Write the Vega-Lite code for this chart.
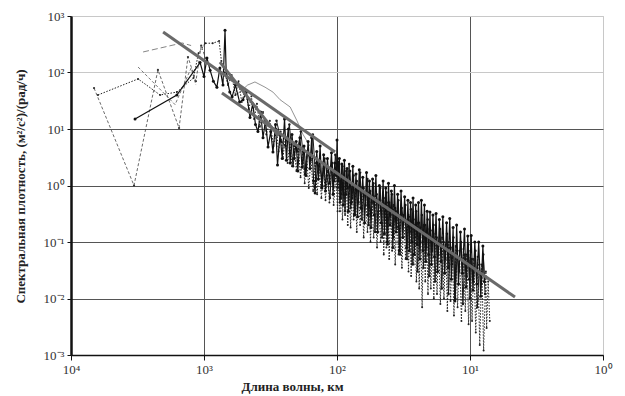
{
"$schema":"https://vega.github.io/schema/vega-lite/v6.json",
"width":532,"height":339,"autosize":"none",
"padding":{"left":71,"top":16,"right":22,"bottom":41},
"background":"white",
"datasets":{
"A":[{"x":3300,"y":15},{"x":1600,"y":40},{"x":1070,"y":150},{"x":1000,"y":85},{"x":950,"y":180},{"x":900,"y":110},{"x":850,"y":70},{"x":800,"y":55},{"x":760,"y":120},{"x":720,"y":60},{"x":695,"y":560},{"x":680,"y":90},{"x":640,"y":45},{"x":615,"y":37},{"x":580,"y":60},{"x":540,"y":30},{"x":509,"y":33},{"x":480,"y":45},{"x":451,"y":16},{"x":430,"y":28},{"x":410,"y":12},{"x":393,"y":9},{"x":375,"y":20},{"x":360,"y":7},{"x":345,"y":14},{"x":330,"y":4.8},{"x":315,"y":9},{"x":303,"y":3.9},{"x":290,"y":12},{"x":280,"y":2.3},{"x":268,"y":8},{"x":258,"y":3},{"x":248,"y":15},{"x":240,"y":2.8},{"x":232,"y":10},{"x":225,"y":2.5},{"x":218,"y":8},{"x":210,"y":3},{"x":203,"y":6},{"x":197,"y":1.8},{"x":190,"y":7},{"x":183,"y":2.1},{"x":177,"y":5},{"x":171,"y":1.5},{"x":165,"y":6},{"x":160,"y":2},{"x":155,"y":7},{"x":150,"y":1.2},{"x":146,"y":0.74},{"x":142,"y":4},{"x":138,"y":1.3},{"x":134,"y":5},{"x":130,"y":0.9},{"x":126,"y":3.5},{"x":122,"y":0.8},{"x":118,"y":3},{"x":114,"y":1.1},{"x":110,"y":3.8},{"x":107,"y":0.7},{"x":104,"y":2.5},{"x":101,"y":1.5},{"x":100,"y":6.4},{"x":98,"y":1.2},{"x":96,"y":3},{"x":94,"y":0.6},{"x":92,"y":2.4},{"x":90,"y":0.45},{"x":88,"y":2.8},{"x":86,"y":0.7},{"x":84,"y":2},{"x":82,"y":0.35},{"x":80,"y":1.8},{"x":78,"y":0.5},{"x":76,"y":2.2},{"x":74,"y":0.3},{"x":72,"y":1.6},{"x":70,"y":0.28},{"x":68,"y":1.9},{"x":66,"y":0.4},{"x":64,"y":1.4},{"x":62,"y":0.22},{"x":60,"y":1.7},{"x":58.5,"y":0.3},{"x":57,"y":1.2},{"x":55.5,"y":0.18},{"x":54,"y":1.3},{"x":52.5,"y":0.3},{"x":51,"y":1.5},{"x":49.5,"y":0.15},{"x":48,"y":1.0},{"x":46.5,"y":0.22},{"x":45,"y":1.2},{"x":44,"y":0.14},{"x":43,"y":0.9},{"x":42,"y":0.1},{"x":41,"y":1.1},{"x":40,"y":0.2},{"x":39,"y":0.8},{"x":38,"y":0.08},{"x":37,"y":1.0},{"x":36,"y":0.15},{"x":35,"y":0.7},{"x":34,"y":0.07},{"x":33,"y":0.8},{"x":32,"y":0.12},{"x":31,"y":0.63},{"x":30,"y":0.08},{"x":29.3,"y":0.55},{"x":28.6,"y":0.07},{"x":28,"y":0.5},{"x":27.4,"y":0.1},{"x":26.8,"y":0.6},{"x":26.2,"y":0.06},{"x":25.6,"y":0.45},{"x":25,"y":0.09},{"x":24.4,"y":0.5},{"x":23.8,"y":0.05},{"x":23.2,"y":0.55},{"x":22.6,"y":0.07},{"x":22,"y":0.45},{"x":21.5,"y":0.045},{"x":21,"y":0.35},{"x":20.5,"y":0.06},{"x":20,"y":0.34},{"x":19.5,"y":0.04},{"x":19,"y":0.3},{"x":18.5,"y":0.055},{"x":18,"y":0.32},{"x":17.5,"y":0.03},{"x":17,"y":0.25},{"x":16.5,"y":0.045},{"x":16,"y":0.28},{"x":15.5,"y":0.028},{"x":15,"y":0.22},{"x":14.6,"y":0.035},{"x":14.2,"y":0.26},{"x":13.8,"y":0.022},{"x":13.4,"y":0.18},{"x":13,"y":0.009},{"x":12.6,"y":0.2},{"x":12.2,"y":0.018},{"x":11.8,"y":0.15},{"x":11.4,"y":0.028},{"x":11,"y":0.17},{"x":10.7,"y":0.016},{"x":10.4,"y":0.128},{"x":10.1,"y":0.022},{"x":9.8,"y":0.13},{"x":9.5,"y":0.014},{"x":9.2,"y":0.1},{"x":8.9,"y":0.018},{"x":8.6,"y":0.1},{"x":8.3,"y":0.011},{"x":8.0,"y":0.085},{"x":7.8,"y":0.02}],
"G":[{"x":285,"y":14},{"x":262,"y":6},{"x":244,"y":5},{"x":228,"y":12},{"x":214,"y":2.2},{"x":205,"y":5},{"x":199,"y":4},{"x":187,"y":9},{"x":174,"y":1.6},{"x":168,"y":4},{"x":158,"y":2.8},{"x":152,"y":8},{"x":144,"y":1.2},{"x":136,"y":2.7},{"x":129,"y":1.0},{"x":124,"y":3},{"x":119,"y":1.5},{"x":113,"y":0.6},{"x":109,"y":2.5},{"x":105,"y":1.2},{"x":103,"y":3.5},{"x":99,"y":0.9},{"x":97,"y":2.6},{"x":95,"y":0.5},{"x":93,"y":0.7},{"x":91,"y":2.2},{"x":89,"y":1.4},{"x":87,"y":0.35},{"x":85,"y":1.8},{"x":83,"y":0.9},{"x":81,"y":2.4},{"x":79,"y":0.4},{"x":77,"y":0.6},{"x":75,"y":1.5},{"x":73,"y":0.3},{"x":71,"y":1.2},{"x":69,"y":0.5},{"x":67,"y":1.7},{"x":65,"y":0.25},{"x":63,"y":0.9},{"x":61,"y":0.45},{"x":59,"y":1.3},{"x":57.8,"y":0.2},{"x":56.3,"y":0.8},{"x":54.8,"y":0.5},{"x":53.2,"y":1.1},{"x":51.8,"y":0.15},{"x":50.3,"y":0.7},{"x":48.8,"y":0.35},{"x":47.3,"y":0.9},{"x":45.8,"y":0.12},{"x":44.6,"y":0.6},{"x":43.6,"y":0.4},{"x":42.6,"y":0.75},{"x":41.6,"y":0.09},{"x":40.6,"y":0.5},{"x":39.6,"y":0.3},{"x":38.6,"y":0.7},{"x":37.6,"y":0.12},{"x":36.6,"y":0.4},{"x":35.6,"y":0.18},{"x":34.6,"y":0.55},{"x":33.6,"y":0.06},{"x":32.6,"y":0.4},{"x":31.6,"y":0.22},{"x":30.6,"y":0.45},{"x":29.8,"y":0.05},{"x":29.1,"y":0.3},{"x":28.4,"y":0.15},{"x":27.8,"y":0.38},{"x":27.2,"y":0.04},{"x":26.6,"y":0.25},{"x":26,"y":0.12},{"x":25.4,"y":0.35},{"x":24.8,"y":0.03},{"x":24.2,"y":0.22},{"x":23.6,"y":0.1},{"x":23,"y":0.3},{"x":22.4,"y":0.035},{"x":21.8,"y":0.2},{"x":21.3,"y":0.08},{"x":20.8,"y":0.25},{"x":20.3,"y":0.025},{"x":19.8,"y":0.16},{"x":19.3,"y":0.07},{"x":18.8,"y":0.2},{"x":18.3,"y":0.02},{"x":17.8,"y":0.12},{"x":17.3,"y":0.06},{"x":16.8,"y":0.17},{"x":16.3,"y":0.015},{"x":15.8,"y":0.1},{"x":15.3,"y":0.05},{"x":14.9,"y":0.14},{"x":14.5,"y":0.012},{"x":14.1,"y":0.08},{"x":13.7,"y":0.04},{"x":13.3,"y":0.12},{"x":12.9,"y":0.01},{"x":12.5,"y":0.07},{"x":12.1,"y":0.03},{"x":11.7,"y":0.1},{"x":11.3,"y":0.008},{"x":10.95,"y":0.06},{"x":10.6,"y":0.025},{"x":10.3,"y":0.09},{"x":10,"y":0.01},{"x":9.7,"y":0.05},{"x":9.4,"y":0.02},{"x":9.1,"y":0.07},{"x":8.8,"y":0.007},{"x":8.5,"y":0.04},{"x":8.2,"y":0.018},{"x":7.95,"y":0.06},{"x":7.7,"y":0.012}],
"B":[{"x":6270,"y":40},{"x":3130,"y":77},{"x":2140,"y":40},{"x":1600,"y":45},{"x":1200,"y":80},{"x":1100,"y":220},{"x":980,"y":330},{"x":860,"y":330},{"x":770,"y":360},{"x":740,"y":160},{"x":700,"y":100},{"x":660,"y":60},{"x":620,"y":90},{"x":580,"y":40},{"x":550,"y":70},{"x":520,"y":30},{"x":490,"y":50},{"x":460,"y":22},{"x":440,"y":38},{"x":420,"y":15},{"x":400,"y":28},{"x":380,"y":11},{"x":360,"y":20},{"x":340,"y":8},{"x":320,"y":14},{"x":300,"y":5},{"x":285,"y":10},{"x":275,"y":4},{"x":265,"y":9},{"x":255,"y":3},{"x":245,"y":7},{"x":235,"y":2.5},{"x":226,"y":6},{"x":218,"y":2.2},{"x":210,"y":5},{"x":202,"y":1.8},{"x":195,"y":4.5},{"x":188,"y":1.4},{"x":181,"y":4},{"x":175,"y":1.1},{"x":169,"y":3.2},{"x":163,"y":0.9},{"x":157,"y":3},{"x":151,"y":0.8},{"x":146,"y":2.5},{"x":141,"y":0.7},{"x":136,"y":2.2},{"x":131,"y":0.6},{"x":126,"y":2},{"x":122,"y":0.55},{"x":118,"y":1.8},{"x":114,"y":0.5},{"x":110,"y":2.2},{"x":106,"y":0.45},{"x":102,"y":1.6},{"x":99,"y":0.35},{"x":97,"y":1.5},{"x":95,"y":0.35},{"x":93,"y":1.2},{"x":91,"y":0.25},{"x":89,"y":1.4},{"x":87,"y":0.3},{"x":85,"y":1.1},{"x":83,"y":0.2},{"x":81,"y":1.2},{"x":79,"y":0.18},{"x":77,"y":0.9},{"x":75,"y":0.25},{"x":73,"y":1.0},{"x":71,"y":0.15},{"x":69,"y":0.8},{"x":67,"y":0.2},{"x":65,"y":0.9},{"x":63,"y":0.12},{"x":61,"y":0.7},{"x":59,"y":0.15},{"x":57.5,"y":0.75},{"x":56,"y":0.1},{"x":54.5,"y":0.6},{"x":53,"y":0.12},{"x":51.5,"y":0.65},{"x":50,"y":0.08},{"x":48.5,"y":0.5},{"x":47,"y":0.1},{"x":45.5,"y":0.55},{"x":44.5,"y":0.06},{"x":43.5,"y":0.45},{"x":42.5,"y":0.08},{"x":41.5,"y":0.5},{"x":40.5,"y":0.05},{"x":39.5,"y":0.4},{"x":38.5,"y":0.07},{"x":37.5,"y":0.45},{"x":36.5,"y":0.04},{"x":35.5,"y":0.35},{"x":34.5,"y":0.06},{"x":33.5,"y":0.3},{"x":32.5,"y":0.035},{"x":31.5,"y":0.3},{"x":30.5,"y":0.05},{"x":29.6,"y":0.25},{"x":29,"y":0.03},{"x":28.3,"y":0.28},{"x":27.7,"y":0.025},{"x":27.1,"y":0.22},{"x":26.5,"y":0.04},{"x":25.9,"y":0.2},{"x":25.3,"y":0.02},{"x":24.7,"y":0.22},{"x":24.1,"y":0.015},{"x":23.5,"y":0.18},{"x":22.9,"y":0.007},{"x":22.3,"y":0.2},{"x":21.7,"y":0.02},{"x":21.2,"y":0.15},{"x":20.7,"y":0.012},{"x":20.2,"y":0.17},{"x":19.7,"y":0.015},{"x":19.2,"y":0.12},{"x":18.7,"y":0.01},{"x":18.2,"y":0.14},{"x":17.7,"y":0.012},{"x":17.2,"y":0.1},{"x":16.7,"y":0.008},{"x":16.2,"y":0.12},{"x":15.7,"y":0.01},{"x":15.2,"y":0.09},{"x":14.8,"y":0.006},{"x":14.4,"y":0.1},{"x":14,"y":0.009},{"x":13.6,"y":0.08},{"x":13.2,"y":0.005},{"x":12.8,"y":0.085},{"x":12.4,"y":0.007},{"x":12,"y":0.07},{"x":11.6,"y":0.004},{"x":11.2,"y":0.075},{"x":10.85,"y":0.006},{"x":10.55,"y":0.06},{"x":10.25,"y":0.0035},{"x":9.95,"y":0.07},{"x":9.65,"y":0.004},{"x":9.35,"y":0.05},{"x":9.05,"y":0.0025},{"x":8.75,"y":0.055},{"x":8.45,"y":0.0015},{"x":8.15,"y":0.04},{"x":7.9,"y":0.0012},{"x":7.6,"y":0.03},{"x":7.5,"y":0.003},{"x":7.3,"y":0.02},{"x":7.1,"y":0.004}],
"C":[{"x":6710,"y":53},{"x":3360,"y":1.0},{"x":2220,"y":111},{"x":1540,"y":10.4},{"x":1320,"y":188},{"x":1150,"y":70},{"x":1050,"y":300},{"x":950,"y":150}],
"E":[{"x":3130,"y":125},{"x":2300,"y":60},{"x":1650,"y":27},{"x":1250,"y":120},{"x":1150,"y":60}],
"F":[{"x":2870,"y":231},{"x":1460,"y":333},{"x":1250,"y":300}],
"D":[{"x":640,"y":35},{"x":536,"y":45},{"x":470,"y":60},{"x":414,"y":68},{"x":348,"y":55},{"x":303,"y":45},{"x":268,"y":33},{"x":225,"y":24.5},{"x":200,"y":14},{"x":180,"y":8},{"x":160,"y":5}],
"fit":[{"g":"u","x":2030,"y":521},{"g":"u","x":103.5,"y":3.92},{"g":"l","x":733,"y":43.4},{"g":"l","x":4.59,"y":0.0106},{"g":"s","x":759,"y":153},{"g":"s","x":275,"y":7.5}]
},
"encoding":{
"x":{"field":"x","type":"quantitative","scale":{"type":"log","domain":[1,10000],"reverse":true,"nice":false},
"axis":{"values":[1,10,100,1000,10000],"labelExpr":"['10⁰','10¹','10²','10³','10⁴'][round(log(datum.value)/LN10)]","title":"Длина волны, км","domainColor":"#111","domainWidth":1.5,"tickSize":5,"tickColor":"#111","labelPadding":3,"labelFlush":false,"gridColor":{"condition":{"test":"datum.value < 5","value":"#c8c8c8"},"value":"#555"},"titleX":221,"titleY":31,"titleAlign":"center","titleBaseline":"middle"}},
"y":{"field":"y","type":"quantitative","scale":{"type":"log","domain":[0.001,1000],"nice":false},
"axis":{"values":[0.001,0.01,0.1,1,10,100,1000],"labelExpr":"['10⁻³','10⁻²','10⁻¹','10⁰','10¹','10²','10³'][round(log(datum.value)/LN10)+3]","title":"Спектральная плотность, (м²/с²)/(рад/ч)","domainColor":"#111","domainWidth":2.5,"tickSize":4,"tickColor":"#111","labelPadding":3,"gridColor":{"condition":{"test":"datum.value > 50","value":"#c8c8c8"},"value":"#555"},"titleX":-51,"titleY":170,"titleAlign":"center","titleBaseline":"middle"}}
},
"layer":[
{"data":{"name":"C"},"mark":{"type":"line","color":"#444","strokeWidth":0.8,"strokeDash":[3,2],"point":{"filled":true,"size":5,"color":"#333"}}},
{"data":{"name":"E"},"mark":{"type":"line","color":"#555","strokeWidth":0.8,"strokeDash":[3,2]}},
{"data":{"name":"F"},"mark":{"type":"line","color":"#777","strokeWidth":0.9,"strokeDash":[6,3]}},
{"data":{"name":"D"},"mark":{"type":"line","color":"#666","strokeWidth":0.7}},
{"data":{"name":"B"},"mark":{"type":"line","color":"#222","strokeWidth":1,"strokeDash":[1.5,1.5],"point":{"filled":true,"size":4,"color":"#222"}}},
{"data":{"name":"G"},"mark":{"type":"line","color":"#1a1a1a","strokeWidth":1,"point":{"filled":true,"size":6,"color":"#1a1a1a"}}},
{"data":{"name":"A"},"mark":{"type":"line","color":"#111","strokeWidth":1.2,"point":{"filled":true,"size":9,"color":"#111"}}},
{"data":{"name":"fit"},"mark":{"type":"line","color":"#6a6a6a","strokeWidth":3},"encoding":{"detail":{"field":"g"}}}
],
"config":{"view":{"stroke":"#c8c8c8","strokeWidth":1},
"axis":{"labelFont":"Liberation Serif","titleFont":"Liberation Serif","labelFontSize":13,"titleFontSize":13,"titleFontWeight":"bold","labelColor":"#333","titleColor":"#222","gridWidth":1}}
}
